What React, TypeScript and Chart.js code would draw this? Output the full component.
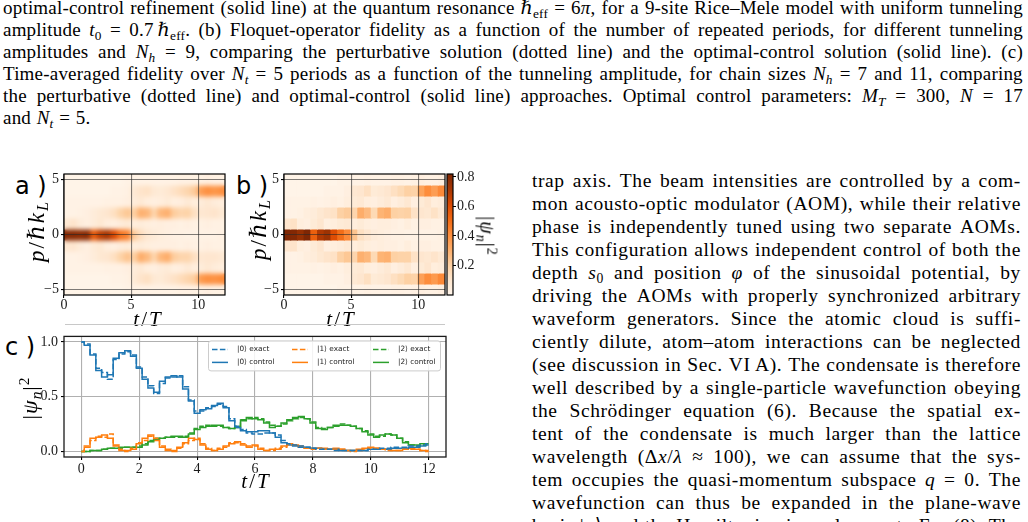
import React, { useEffect, useRef } from 'react';
import { Chart, registerables } from 'chart.js';

Chart.register(...registerables);

const SERIF = '"Liberation Serif", "DejaVu Serif", serif';
const SANS = '"DejaVu Sans", "Liberation Sans", sans-serif';

// ---------------- heatmap data (|psi_n|^2 per momentum row, per time cell) ----------------
const P_VALUES = [5, 4, 3, 2, 1, 0, -1, -2, -3, -4, -5];
const T_CELLS = [0.25, 0.75, 1.25, 1.75, 2.25, 2.75, 3.25, 3.75, 4.25, 4.75, 5.25, 5.75, 6.25, 6.75, 7.25, 7.75, 8.25, 8.75, 9.25, 9.75, 10.25, 10.75, 11.25, 11.75];
const HEAT_A = [
  [0.01, 0.01, 0.01, 0.01, 0.01, 0.01, 0.01, 0.01, 0.01, 0.02, 0.02, 0.02, 0.02, 0.02, 0.02, 0.02, 0.02, 0.03, 0.03, 0.03, 0.03, 0.04, 0.03, 0.03],
  [0.01, 0.01, 0.01, 0.01, 0.01, 0.01, 0.01, 0.02, 0.02, 0.03, 0.08, 0.11, 0.12, 0.08, 0.07, 0.09, 0.12, 0.15, 0.18, 0.22, 0.36, 0.40, 0.38, 0.40],
  [0.02, 0.02, 0.02, 0.02, 0.02, 0.02, 0.03, 0.03, 0.03, 0.04, 0.06, 0.08, 0.05, 0.04, 0.05, 0.07, 0.04, 0.05, 0.08, 0.05, 0.06, 0.09, 0.06, 0.05],
  [0.02, 0.02, 0.03, 0.04, 0.06, 0.08, 0.10, 0.13, 0.19, 0.23, 0.20, 0.30, 0.28, 0.18, 0.28, 0.30, 0.21, 0.18, 0.19, 0.13, 0.09, 0.10, 0.11, 0.08],
  [0.09, 0.11, 0.06, 0.04, 0.06, 0.09, 0.05, 0.04, 0.06, 0.08, 0.05, 0.06, 0.05, 0.04, 0.05, 0.04, 0.04, 0.03, 0.04, 0.03, 0.03, 0.04, 0.03, 0.03],
  [0.80, 0.80, 0.78, 0.80, 0.56, 0.68, 0.72, 0.62, 0.48, 0.44, 0.22, 0.14, 0.09, 0.07, 0.05, 0.04, 0.03, 0.03, 0.02, 0.02, 0.02, 0.02, 0.02, 0.03],
  [0.09, 0.10, 0.06, 0.04, 0.07, 0.09, 0.05, 0.04, 0.06, 0.07, 0.05, 0.06, 0.05, 0.04, 0.04, 0.04, 0.04, 0.03, 0.04, 0.03, 0.03, 0.04, 0.03, 0.03],
  [0.02, 0.02, 0.03, 0.04, 0.06, 0.09, 0.10, 0.13, 0.19, 0.24, 0.20, 0.31, 0.27, 0.18, 0.28, 0.31, 0.21, 0.18, 0.18, 0.13, 0.09, 0.10, 0.10, 0.08],
  [0.02, 0.02, 0.02, 0.02, 0.02, 0.02, 0.03, 0.03, 0.03, 0.04, 0.06, 0.08, 0.05, 0.04, 0.06, 0.07, 0.04, 0.05, 0.08, 0.05, 0.06, 0.09, 0.06, 0.05],
  [0.01, 0.01, 0.01, 0.01, 0.01, 0.01, 0.01, 0.02, 0.02, 0.03, 0.07, 0.11, 0.13, 0.08, 0.07, 0.10, 0.12, 0.15, 0.18, 0.21, 0.37, 0.40, 0.39, 0.41],
  [0.01, 0.01, 0.01, 0.01, 0.01, 0.01, 0.01, 0.01, 0.01, 0.02, 0.02, 0.02, 0.02, 0.02, 0.02, 0.02, 0.02, 0.03, 0.03, 0.03, 0.03, 0.04, 0.03, 0.03],
];
const HEAT_B = [
  [0.01, 0.01, 0.01, 0.01, 0.01, 0.01, 0.01, 0.01, 0.02, 0.02, 0.02, 0.02, 0.03, 0.02, 0.02, 0.02, 0.03, 0.03, 0.02, 0.03, 0.04, 0.03, 0.03, 0.04],
  [0.01, 0.01, 0.01, 0.01, 0.01, 0.01, 0.02, 0.02, 0.02, 0.04, 0.09, 0.10, 0.13, 0.07, 0.08, 0.10, 0.13, 0.16, 0.20, 0.19, 0.34, 0.41, 0.36, 0.42],
  [0.02, 0.02, 0.02, 0.02, 0.03, 0.02, 0.03, 0.04, 0.03, 0.05, 0.07, 0.08, 0.05, 0.04, 0.06, 0.08, 0.04, 0.06, 0.09, 0.04, 0.07, 0.10, 0.05, 0.06],
  [0.02, 0.02, 0.03, 0.05, 0.06, 0.09, 0.11, 0.12, 0.20, 0.22, 0.18, 0.31, 0.27, 0.16, 0.29, 0.31, 0.20, 0.19, 0.20, 0.12, 0.10, 0.09, 0.12, 0.08],
  [0.10, 0.12, 0.05, 0.04, 0.07, 0.10, 0.04, 0.05, 0.07, 0.08, 0.05, 0.07, 0.05, 0.04, 0.05, 0.05, 0.04, 0.03, 0.05, 0.03, 0.04, 0.04, 0.03, 0.03],
  [0.82, 0.81, 0.76, 0.82, 0.54, 0.70, 0.74, 0.60, 0.50, 0.42, 0.24, 0.13, 0.10, 0.06, 0.05, 0.04, 0.03, 0.03, 0.02, 0.02, 0.02, 0.02, 0.02, 0.03],
  [0.10, 0.11, 0.05, 0.04, 0.07, 0.10, 0.04, 0.05, 0.06, 0.08, 0.05, 0.07, 0.05, 0.04, 0.05, 0.04, 0.04, 0.03, 0.05, 0.03, 0.04, 0.04, 0.03, 0.03],
  [0.02, 0.02, 0.03, 0.05, 0.06, 0.09, 0.11, 0.12, 0.20, 0.23, 0.18, 0.30, 0.28, 0.16, 0.29, 0.30, 0.20, 0.19, 0.19, 0.12, 0.10, 0.09, 0.11, 0.08],
  [0.02, 0.02, 0.02, 0.02, 0.03, 0.02, 0.03, 0.04, 0.03, 0.05, 0.07, 0.08, 0.05, 0.04, 0.06, 0.08, 0.04, 0.06, 0.09, 0.04, 0.07, 0.10, 0.05, 0.06],
  [0.01, 0.01, 0.01, 0.01, 0.01, 0.01, 0.02, 0.02, 0.02, 0.04, 0.08, 0.10, 0.13, 0.07, 0.08, 0.10, 0.13, 0.16, 0.20, 0.19, 0.35, 0.41, 0.37, 0.42],
  [0.01, 0.01, 0.01, 0.01, 0.01, 0.01, 0.01, 0.01, 0.02, 0.02, 0.02, 0.02, 0.03, 0.02, 0.02, 0.02, 0.03, 0.03, 0.02, 0.03, 0.04, 0.03, 0.03, 0.04],
];
const HEAT_X_TICKS = [0, 5, 10];
const HEAT_Y_TICKS = [-5, 0, 5];
const CB_TICKS = [0.2, 0.4, 0.6, 0.8];
const CB_MAX = 0.82;
const ORANGES = ['#fff5eb', '#fee6ce', '#fdd0a2', '#fdae6b', '#fd8d3c', '#f16913', '#d94801', '#a63603', '#7f2704'];

// ---------------- line chart data ----------------
const TIMES = [0, 0.2, 0.4, 0.6, 0.8, 1, 1.2, 1.4, 1.6, 1.8, 2, 2.2, 2.4, 2.6, 2.8, 3, 3.2, 3.4, 3.6, 3.8, 4, 4.2, 4.4, 4.6, 4.8, 5, 5.2, 5.4, 5.6, 5.8, 6, 6.2, 6.4, 6.6, 6.8, 7, 7.2, 7.4, 7.6, 7.8, 8, 8.2, 8.4, 8.6, 8.8, 9, 9.2, 9.4, 9.6, 9.8, 10, 10.2, 10.4, 10.6, 10.8, 11, 11.2, 11.4, 11.6, 11.8, 12];
const EXACT_0 = [
  1.00, 0.98, 0.89, 0.76, 0.72, 0.66, 0.84, 0.89, 0.91, 0.88,
  0.77, 0.68, 0.60, 0.53, 0.62, 0.67, 0.68, 0.69, 0.59, 0.47,
  0.37, 0.37, 0.40, 0.41, 0.43, 0.41, 0.30, 0.23, 0.20, 0.17,
  0.16, 0.16, 0.17, 0.17, 0.15, 0.10, 0.07, 0.06, 0.05, 0.04,
  0.03, 0.02, 0.02, 0.02, 0.01, 0.01, 0.01, 0.01, 0.01, 0.01,
  0.02, 0.02, 0.03, 0.03, 0.04, 0.04, 0.04, 0.05, 0.05, 0.06,
  0.07,
];
const CONTROL_0 = [
  1.00, 0.97, 0.88, 0.74, 0.68, 0.70, 0.85, 0.90, 0.92, 0.87,
  0.76, 0.66, 0.58, 0.54, 0.64, 0.68, 0.69, 0.68, 0.57, 0.46,
  0.35, 0.38, 0.39, 0.42, 0.44, 0.40, 0.28, 0.22, 0.19, 0.18,
  0.18, 0.19, 0.19, 0.17, 0.13, 0.08, 0.06, 0.05, 0.04, 0.04,
  0.03, 0.03, 0.02, 0.02, 0.02, 0.01, 0.01, 0.01, 0.01, 0.01,
  0.02, 0.02, 0.02, 0.02, 0.03, 0.03, 0.03, 0.04, 0.04, 0.05,
  0.06,
];
const EXACT_1 = [
  0.00, 0.05, 0.10, 0.14, 0.13, 0.16, 0.06, 0.02, 0.00, 0.03,
  0.08, 0.10, 0.14, 0.12, 0.05, 0.02, 0.00, 0.03, 0.07, 0.10,
  0.12, 0.07, 0.03, 0.01, 0.03, 0.04, 0.08, 0.08, 0.07, 0.05,
  0.05, 0.03, 0.01, 0.01, 0.03, 0.04, 0.06, 0.06, 0.05, 0.03,
  0.02, 0.03, 0.02, 0.02, 0.02, 0.02, 0.01, 0.00, 0.01, 0.02,
  0.03, 0.03, 0.02, 0.01, 0.01, 0.01, 0.02, 0.02, 0.02, 0.01,
  0.00,
];
const CONTROL_1 = [
  0.00, 0.04, 0.12, 0.13, 0.15, 0.12, 0.05, 0.01, 0.01, 0.02,
  0.07, 0.12, 0.15, 0.10, 0.04, 0.01, 0.01, 0.04, 0.08, 0.12,
  0.11, 0.06, 0.02, 0.01, 0.02, 0.05, 0.07, 0.09, 0.06, 0.04,
  0.06, 0.02, 0.01, 0.02, 0.02, 0.05, 0.07, 0.06, 0.04, 0.03,
  0.03, 0.03, 0.03, 0.02, 0.03, 0.02, 0.01, 0.01, 0.02, 0.03,
  0.04, 0.03, 0.02, 0.02, 0.01, 0.01, 0.02, 0.03, 0.02, 0.01,
  0.01,
];
const EXACT_2 = [
  0.00, 0.00, 0.01, 0.01, 0.02, 0.03, 0.03, 0.03, 0.04, 0.04,
  0.05, 0.07, 0.10, 0.12, 0.12, 0.13, 0.13, 0.13, 0.14, 0.17,
  0.21, 0.23, 0.24, 0.23, 0.23, 0.22, 0.21, 0.23, 0.29, 0.30,
  0.31, 0.30, 0.27, 0.24, 0.23, 0.25, 0.28, 0.30, 0.31, 0.30,
  0.27, 0.22, 0.21, 0.22, 0.23, 0.25, 0.24, 0.23, 0.21, 0.19,
  0.16, 0.14, 0.14, 0.16, 0.15, 0.12, 0.09, 0.06, 0.05, 0.06,
  0.07,
];
const CONTROL_2 = [
  0.00, 0.00, 0.01, 0.01, 0.02, 0.03, 0.03, 0.04, 0.04, 0.04,
  0.04, 0.06, 0.09, 0.11, 0.12, 0.13, 0.14, 0.14, 0.13, 0.16,
  0.20, 0.22, 0.23, 0.24, 0.24, 0.22, 0.21, 0.22, 0.28, 0.31,
  0.30, 0.29, 0.26, 0.22, 0.23, 0.26, 0.29, 0.31, 0.32, 0.30,
  0.26, 0.21, 0.20, 0.22, 0.24, 0.24, 0.24, 0.23, 0.21, 0.18,
  0.15, 0.13, 0.15, 0.16, 0.15, 0.12, 0.08, 0.06, 0.06, 0.07,
  0.07,
];
const LINE_X_TICKS = [0, 2, 4, 6, 8, 10, 12];
const LINE_Y_TICKS = [0, 0.5, 1];
const STATE_LABELS = ['|0⟩', '|1⟩', '|2⟩'];
const STATE_COLORS = ['#1f77b4', '#ff7f0e', '#2ca02c'];
const EXACT_SERIES = [EXACT_0, EXACT_1, EXACT_2];
const CONTROL_SERIES = [CONTROL_0, CONTROL_1, CONTROL_2];

// ---------------- helpers ----------------
function hexRgb(h: string) {
  return [parseInt(h.slice(1, 3), 16), parseInt(h.slice(3, 5), 16), parseInt(h.slice(5, 7), 16)];
}
function orangesColor(v: number) {
  const n = Math.min(Math.max(v / CB_MAX, 0), 1) * (ORANGES.length - 1);
  const i = Math.min(Math.floor(n), ORANGES.length - 2);
  const f = n - i;
  const a = hexRgb(ORANGES[i]);
  const b = hexRgb(ORANGES[i + 1]);
  const c = a.map((x, k) => Math.round(x + (b[k] - x) * f));
  return `rgb(${c[0]},${c[1]},${c[2]})`;
}
const fmtSigned = (v: number) => (v < 0 ? '\u2212' + Math.abs(v) : String(v));
const setTicks = (vals: number[]) => (s: any) => {
  s.ticks = vals.map((v) => ({ value: v }));
};

const framePlugin = {
  id: 'frame',
  afterDraw(chart: any, _a: any, opts: any) {
    const { ctx, chartArea: a } = chart;
    ctx.save();
    ctx.strokeStyle = (opts && opts.color) || '#000';
    ctx.lineWidth = (opts && opts.width) || 1.2;
    ctx.strokeRect(a.left, a.top, a.right - a.left, a.bottom - a.top);
    ctx.restore();
  },
};

const heatBlurPlugin = {
  id: 'heatBlur',
  afterDatasetsDraw(chart: any, _a: any, opts: any) {
    if (!opts || !opts.enabled) return;
    const { ctx, chartArea: a, canvas } = chart;
    const w = Math.round(a.right - a.left);
    const h = Math.round(a.bottom - a.top);
    const off = document.createElement('canvas');
    off.width = w;
    off.height = h;
    const octx = off.getContext('2d');
    if (!octx) return;
    octx.drawImage(canvas, a.left, a.top, w, h, 0, 0, w, h);
    ctx.save();
    ctx.beginPath();
    ctx.rect(a.left, a.top, w, h);
    ctx.clip();
    ctx.filter = `blur(${opts.radius || 2}px)`;
    ctx.drawImage(off, a.left, a.top);
    ctx.restore();
  },
};

const stateLegendPlugin = {
  id: 'stateLegend',
  afterDraw(chart: any) {
    const { ctx, chartArea: a } = chart;
    const boxW = 232;
    const boxH = 30;
    const x0 = a.right - 6 - boxW;
    const y0 = a.top + 4;
    ctx.save();
    ctx.beginPath();
    if (ctx.roundRect) ctx.roundRect(x0 + 0.5, y0 + 0.5, boxW, boxH, 2.5);
    else ctx.rect(x0 + 0.5, y0 + 0.5, boxW, boxH);
    ctx.fillStyle = 'rgba(255,255,255,0.85)';
    ctx.fill();
    ctx.strokeStyle = '#cccccc';
    ctx.lineWidth = 1;
    ctx.stroke();
    const colX = [4, 84, 165];
    const rowY = [9, 22];
    ctx.font = `7.3px ${SANS}`;
    ctx.textBaseline = 'middle';
    chart.data.datasets.forEach((ds: any, i: number) => {
      const col = i % 3;
      const row = i < 3 ? 0 : 1;
      const sx = x0 + colX[col];
      const sy = y0 + rowY[row];
      ctx.beginPath();
      ctx.setLineDash(ds.borderDash || []);
      ctx.strokeStyle = ds.borderColor;
      ctx.lineWidth = ds.borderWidth;
      ctx.moveTo(sx, sy);
      ctx.lineTo(sx + 16, sy);
      ctx.stroke();
      ctx.setLineDash([]);
      ctx.fillStyle = '#222';
      ctx.fillText(ds.label, sx + 25, sy);
    });
    ctx.restore();
  },
};

const TICK_FONT = { family: SERIF, size: 14 };
const TICK_COLOR = '#1a1a1a';
const HEAT_GRID = 'rgba(40,40,40,0.6)';

function heatmapConfig(rows: number[][], yAxisWidth: number, padRight: number, blur: boolean) {
  return {
    type: 'bar',
    data: {
      datasets: P_VALUES.map((p, r) => ({
        label: 'p=' + p,
        data: T_CELLS.map((t, i) => ({ x: t, y: [p - 0.5, p + 0.5], v: rows[r][i] })),
        backgroundColor: (c: any) => orangesColor(c.raw ? c.raw.v : 0),
        borderWidth: 0,
        barPercentage: 1,
        categoryPercentage: 1,
        grouped: false,
        inflateAmount: 0.5,
      })),
    },
    options: {
      animation: false,
      responsive: false,
      devicePixelRatio: 1,
      events: [],
      layout: { padding: { left: 0, right: padRight, top: 14, bottom: 0 } },
      plugins: {
        legend: { display: false },
        tooltip: { enabled: false },
        heatBlur: { enabled: blur, radius: 2.2 },
        frame: { color: '#000', width: 1.2 },
      },
      scales: {
        x: {
          type: 'linear',
          min: 0,
          max: 12,
          offset: false,
          afterBuildTicks: setTicks(HEAT_X_TICKS),
          afterFit: (s: any) => {
            s.height = 45;
          },
          grid: { offset: false, z: 1, color: HEAT_GRID, lineWidth: 1.1, tickColor: '#000', tickLength: 3, drawTicks: true },
          border: { display: false },
          ticks: { font: TICK_FONT, color: TICK_COLOR, padding: -1, maxRotation: 0, autoSkip: false, callback: (v: number) => fmtSigned(v) },
        },
        y: {
          type: 'linear',
          min: -5.5,
          max: 5.5,
          afterBuildTicks: setTicks(HEAT_Y_TICKS),
          afterFit: (s: any) => {
            s.width = yAxisWidth;
          },
          grid: { z: 1, color: HEAT_GRID, lineWidth: 1.1, tickColor: '#000', tickLength: 3, drawTicks: true },
          border: { display: false },
          ticks: { font: TICK_FONT, color: TICK_COLOR, padding: 2, autoSkip: false, callback: (v: number) => fmtSigned(v) },
        },
      },
    },
    plugins: [heatBlurPlugin, framePlugin],
  };
}

const makeHeatA = () => heatmapConfig(HEAT_A, 64, 15, true);
const makeHeatB = () => heatmapConfig(HEAT_B, 54, 15, false);

const makeColorbar = () => ({
  type: 'bar',
  data: {
    labels: ['|ψn|²'],
    datasets: [
      {
        data: [[0, CB_MAX]],
        backgroundColor: (c: any) => {
          const chart = c.chart;
          const ys = chart.scales && chart.scales.y;
          if (!ys || !chart.chartArea) return ORANGES[4];
          const g = chart.ctx.createLinearGradient(0, ys.getPixelForValue(0), 0, ys.getPixelForValue(CB_MAX));
          ORANGES.forEach((col, i) => g.addColorStop(i / (ORANGES.length - 1), col));
          return g;
        },
        borderWidth: 0,
        barPercentage: 1,
        categoryPercentage: 1,
      },
    ],
  },
  options: {
    animation: false,
    responsive: false,
    devicePixelRatio: 1,
    events: [],
    layout: { padding: { left: 7, right: 0, top: 14, bottom: 45 } },
    plugins: { legend: { display: false }, tooltip: { enabled: false }, frame: { color: '#000', width: 1.2 } },
    scales: {
      x: { display: false },
      y: {
        position: 'right',
        min: 0,
        max: CB_MAX,
        afterBuildTicks: setTicks(CB_TICKS),
        afterFit: (s: any) => {
          s.width = 57;
        },
        grid: { drawOnChartArea: false, drawTicks: true, tickLength: 3, tickColor: '#000' },
        border: { display: false },
        ticks: { font: TICK_FONT, color: TICK_COLOR, padding: 1, autoSkip: false, callback: (v: number) => v.toFixed(1) },
      },
    },
  },
  plugins: [framePlugin],
});

const makeLines = () => {
  const datasets: any[] = [];
  EXACT_SERIES.forEach((vals, k) =>
    datasets.push({
      label: STATE_LABELS[k] + ' exact',
      data: TIMES.map((t, i) => ({ x: t, y: vals[i] })),
      borderColor: STATE_COLORS[k],
      borderWidth: 1.5,
      borderDash: [5.5, 2.4],
      pointRadius: 0,
      stepped: 'middle',
      fill: false,
    })
  );
  CONTROL_SERIES.forEach((vals, k) =>
    datasets.push({
      label: STATE_LABELS[k] + ' control',
      data: TIMES.map((t, i) => ({ x: t, y: vals[i] })),
      borderColor: STATE_COLORS[k],
      borderWidth: 1.5,
      pointRadius: 0,
      stepped: 'middle',
      fill: false,
    })
  );
  return {
    type: 'line',
    data: { datasets },
    options: {
      animation: false,
      responsive: false,
      devicePixelRatio: 1,
      events: [],
      layout: { padding: { left: 0, right: 14, top: 10, bottom: 0 } },
      plugins: { legend: { display: false }, tooltip: { enabled: false }, frame: { color: '#1a1a1a', width: 1.3 } },
      scales: {
        x: {
          type: 'linear',
          min: -0.6,
          max: 12.6,
          afterBuildTicks: setTicks(LINE_X_TICKS),
          afterFit: (s: any) => {
            s.height = 65;
          },
          grid: { color: '#b0b0b0', lineWidth: 1.1, tickColor: '#000', tickLength: 3 },
          border: { display: false },
          ticks: { font: TICK_FONT, color: TICK_COLOR, padding: 1, maxRotation: 0, autoSkip: false, callback: (v: number) => String(v) },
        },
        y: {
          type: 'linear',
          min: -0.05,
          max: 1.05,
          afterBuildTicks: setTicks(LINE_Y_TICKS),
          afterFit: (s: any) => {
            s.width = 64;
          },
          grid: { color: '#b0b0b0', lineWidth: 1.1, tickColor: '#000', tickLength: 3 },
          border: { display: false },
          ticks: { font: TICK_FONT, color: TICK_COLOR, padding: 3, autoSkip: false, callback: (v: number) => v.toFixed(1) },
        },
      },
    },
    plugins: [stateLegendPlugin, framePlugin],
  };
};

function ChartCanvas({ left, top, width, height, make }: { left: number; top: number; width: number; height: number; make: () => any }) {
  const ref = useRef<HTMLCanvasElement | null>(null);
  useEffect(() => {
    if (!ref.current) return;
    const chart = new Chart(ref.current, make());
    return () => chart.destroy();
  }, [make]);
  return <canvas ref={ref} width={width} height={height} style={{ position: 'absolute', left, top, width, height, display: 'block' }} />;
}

// ---------------- text ----------------
const SUB: React.CSSProperties = { fontSize: '0.7em', verticalAlign: '-0.28em', lineHeight: 1 };
const SUB_I: React.CSSProperties = { ...SUB, fontStyle: 'italic' };
const SUP: React.CSSProperties = { fontSize: '0.7em', verticalAlign: '0.5em', lineHeight: 1 };
const w = (s: string) => s.split(' ');

const HBAR_EFF = (
  <>
    <i>ℏ</i>
    <sub style={SUB}>eff</sub>
  </>
);
const N_H = (
  <>
    <i>N</i>
    <sub style={SUB_I}>h</sub>
  </>
);
const N_T = (
  <>
    <i>N</i>
    <sub style={SUB_I}>t</sub>
  </>
);

const CAPTION_LINES: React.ReactNode[][] = [
  [...w('optimal-control refinement (solid line) at the quantum resonance'), HBAR_EFF, '=', <>6<i>π</i>,</>, ...w('for a 9-site Rice–Mele model with uniform tunneling')],
  [
    'amplitude',
    <>
      <i>t</i>
      <sub style={SUB}>0</sub>
    </>,
    '=',
    <>
      0.7{'\u2009'}
      <i>ℏ</i>
      <sub style={SUB}>eff</sub>.
    </>,
    ...w('(b) Floquet-operator fidelity as a function of the number of repeated periods, for different tunneling'),
  ],
  [...w('amplitudes and'), N_H, '=', '9,', ...w('comparing the perturbative solution (dotted line) and the optimal-control solution (solid line). (c)')],
  [...w('Time-averaged fidelity over'), N_T, '=', ...w('5 periods as a function of the tunneling amplitude, for chain sizes'), N_H, '=', ...w('7 and 11, comparing')],
  [
    ...w('the perturbative (dotted line) and optimal-control (solid line) approaches. Optimal control parameters:'),
    <>
      <i>M</i>
      <sub style={SUB_I}>T</sub>
    </>,
    '=',
    '300,',
    <i>N</i>,
    '=',
    '17',
  ],
];
const CAPTION_LAST: React.ReactNode[] = ['and', N_T, '=', '5.'];

const BODY_LINES: React.ReactNode[][] = [
  w('trap axis. The beam intensities are controlled by a com-'),
  w('mon acousto-optic modulator (AOM), while their relative'),
  w('phase is independently tuned using two separate AOMs.'),
  w('This configuration allows independent control of both the'),
  [
    'depth',
    <>
      <i>s</i>
      <sub style={SUB}>0</sub>
    </>,
    'and',
    'position',
    <i>φ</i>,
    ...w('of the sinusoidal potential, by'),
  ],
  w('driving the AOMs with properly synchronized arbitrary'),
  w('waveform generators. Since the atomic cloud is suffi-'),
  w('ciently dilute, atom–atom interactions can be neglected'),
  w('(see discussion in Sec. VI\u2009A). The condensate is therefore'),
  w('well described by a single-particle wavefunction obeying'),
  w('the Schrödinger equation (6). Because the spatial ex-'),
  w('tent of the condensate is much larger than the lattice'),
  [
    'wavelength',
    <>
      (Δ<i>x</i>/<i>λ</i>
    </>,
    '≈',
    '100),',
    ...w('we can assume that the sys-'),
  ],
  [...w('tem occupies the quasi-momentum subspace'), <i>q</i>, '=', '0.', 'The'],
  w('wavefunction can thus be expanded in the plane-wave'),
  [
    'basis',
    <>
      |<i>n</i>⟩
    </>,
    ...w('and the Hamiltonian is analogous to Eq. (8). The'),
  ],
];

function TextLine({ words, height, justify = true }: { words: React.ReactNode[]; height: number; justify?: boolean }) {
  return (
    <div
      style={{
        display: 'flex',
        justifyContent: justify ? 'space-between' : 'flex-start',
        columnGap: justify ? 0 : '0.3em',
        whiteSpace: 'nowrap',
        height,
        lineHeight: height + 'px',
      }}
    >
      {words.map((wd, i) => (
        <span key={i}>{wd}</span>
      ))}
    </div>
  );
}

function Label({ x, y, angle = 0, size, spacing = 0, children }: { x: number; y: number; angle?: number; size: number; spacing?: number; children: React.ReactNode }) {
  return (
    <div
      style={{
        position: 'absolute',
        left: x,
        top: y,
        transform: `translate(-50%, -50%) rotate(${angle}deg)`,
        fontFamily: SERIF,
        fontSize: size,
        lineHeight: 1,
        whiteSpace: 'nowrap',
        letterSpacing: spacing,
        color: '#000',
      }}
    >
      {children}
    </div>
  );
}

const PanelTag = ({ x, y, text }: { x: number; y: number; text: string }) => (
  <div style={{ position: 'absolute', left: x, top: y, fontFamily: SANS, fontSize: 24, lineHeight: '24px', whiteSpace: 'pre', color: '#000' }}>{text}</div>
);

const MOM_LABEL = (
  <>
    <i>p</i>/<i>ℏk</i>
    <sub style={SUB_I}>L</sub>
  </>
);
const T_LABEL = (
  <>
    <i>t</i>/<i>T</i>
  </>
);
const PSI_LABEL = (
  <>
    |<i>ψ</i>
    <sub style={SUB_I}>n</sub>|<sup style={SUP}>2</sup>
  </>
);

export default function App() {
  return (
    <div style={{ position: 'absolute', left: 0, top: 0, width: 1028, height: 522, overflow: 'hidden', background: '#fff', color: '#000' }}>
      {/* caption */}
      <div style={{ position: 'absolute', left: 3, top: -3.5, width: 1020, fontFamily: SERIF, fontSize: 19, letterSpacing: 0.2 }}>
        {CAPTION_LINES.map((ln, i) => (
          <TextLine key={i} words={ln} height={22} />
        ))}
        <TextLine words={CAPTION_LAST} height={22} justify={false} />
      </div>

      {/* body text column */}
      <div style={{ position: 'absolute', left: 532, top: 169, width: 489, fontFamily: SERIF, fontSize: 19.5, letterSpacing: 0.6 }}>
        {BODY_LINES.map((ln, i) => (
          <TextLine key={i} words={ln} height={23} />
        ))}
      </div>

      {/* panel tags */}
      <PanelTag x={15} y={174} text="a )" />
      <PanelTag x={236} y={174} text="b )" />
      <PanelTag x={5} y={335} text="c )" />

      {/* charts */}
      <ChartCanvas left={0} top={160} width={240} height={180} make={makeHeatA} />
      <ChartCanvas left={230} top={160} width={230} height={180} make={makeHeatB} />
      <ChartCanvas left={440} top={160} width={70} height={180} make={makeColorbar} />
      <ChartCanvas left={0} top={325} width={460} height={197} make={makeLines} />

      {/* axis titles */}
      <Label x={38} y={231} angle={-90} size={23} spacing={2}>
        {MOM_LABEL}
      </Label>
      <Label x={260} y={229} angle={-90} size={23} spacing={2}>
        {MOM_LABEL}
      </Label>
      <Label x={148} y={319} size={21} spacing={2}>
        {T_LABEL}
      </Label>
      <Label x={341} y={319} size={21} spacing={2}>
        {T_LABEL}
      </Label>
      <Label x={256} y={481} size={21} spacing={2}>
        {T_LABEL}
      </Label>
      <Label x={30} y={398} angle={-90} size={22} spacing={1}>
        {PSI_LABEL}
      </Label>
      <Label x={486} y={236} angle={90} size={20} spacing={1}>
        {PSI_LABEL}
      </Label>

      {/* thin separator under the heatmaps */}
      <div style={{ position: 'absolute', left: 65, top: 324, width: 380, height: 1, background: '#c8c8c8' }} />
    </div>
  );
}
